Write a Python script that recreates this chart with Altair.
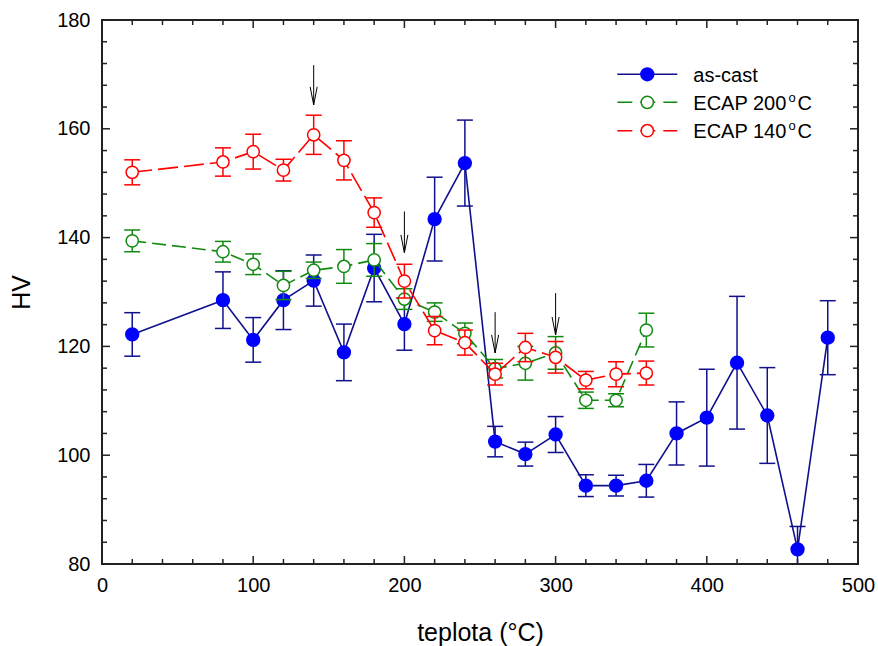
import altair as alt
import pandas as pd

# ---------------- data ----------------
T_cast = [20, 80, 100, 120, 140, 160, 180, 200, 220, 240, 260, 280, 300, 320, 340, 360, 380, 400, 420, 440, 460, 480]
hv_cast = [122.2, 128.5, 121.2, 128.5, 132.1, 118.9, 134.4, 124.1, 143.4, 153.7, 102.5, 100.2, 103.8, 94.4, 94.4, 95.3, 104.0, 106.9, 117.0, 107.3, 82.7, 121.6]
err_cast = [4.0, 5.2, 4.1, 5.4, 4.7, 5.2, 6.2, 4.8, 7.7, 7.9, 2.8, 2.2, 3.3, 2.0, 1.9, 3.0, 5.8, 8.9, 12.2, 8.8, 4.2, 6.8]

T_ecap = [20, 80, 100, 120, 140, 160, 180, 200, 220, 240, 260, 280, 300, 320, 340, 360]
hv_200 = [139.4, 137.4, 135.1, 131.2, 134.0, 134.7, 135.9, 128.7, 126.3, 122.4, 115.9, 116.9, 118.8, 110.1, 110.1, 123.0]
err_200 = [2.0, 1.9, 1.9, 2.6, 1.5, 3.1, 3.0, 1.9, 1.7, 1.9, 1.7, 3.1, 3.0, 1.5, 1.2, 3.1]
hv_140 = [152.0, 153.9, 155.8, 152.4, 158.9, 154.2, 144.6, 132.0, 122.9, 120.7, 114.9, 119.8, 118.0, 113.8, 114.9, 115.1]
err_140 = [2.3, 2.6, 3.2, 2.0, 3.6, 3.6, 2.7, 3.1, 2.6, 2.3, 2.0, 2.6, 2.9, 1.6, 2.3, 2.2]

arrow_T = [140, 200, 260, 300]
arrow_top = [171.7, 144.8, 126.3, 129.8]
arrow_tip = [164.4, 137.2, 118.8, 122.1]

x_major = [0, 100, 200, 300, 400, 500]
x_minor = [v for v in range(20, 500, 20) if v % 100 != 0]
y_major = [80, 100, 120, 140, 160, 180]
y_minor = [v for v in range(84, 180, 4) if v % 20 != 0]

# ---------------- styling ----------------
F = "Liberation Sans, Arial, sans-serif"
W, H = 756, 544
BLUE_LINE = "#10108e"
BLUE_FILL = "#0000ff"
GREEN = "#128a12"
RED = "#ff0000"
FRAME = "#222222"

xs = alt.Scale(domain=[0, 500], nice=False, zero=False)
ys = alt.Scale(domain=[80, 180], nice=False, zero=False)

XA = alt.Axis(
    values=x_major, format="d", ticks=False, domain=False, grid=False,
    labelFlush=False, labelOverlap=False,
    labelFont=F, labelFontSize=20, labelColor="black", labelPadding=11,
    title="teplota (°C)", titleFont=F, titleFontSize=25, titleFontWeight="normal",
    titleColor="black", titleX=378, titleY=68, titleAlign="center", titleBaseline="middle")
YA = alt.Axis(
    values=y_major, format="d", ticks=False, domain=False, grid=False,
    labelFlush=False, labelOverlap=False,
    labelFont=F, labelFontSize=20, labelColor="black", labelPadding=12,
    title="HV", titleFont=F, titleFontSize=25, titleFontWeight="normal",
    titleColor="black", titleX=-81, titleY=272, titleAngle=270,
    titleAlign="center", titleBaseline="middle")


def X(f="T"):
    return alt.X(f"{f}:Q", scale=xs, axis=XA)


def Y(f="HV"):
    return alt.Y(f"{f}:Q", scale=ys, axis=YA)


def mkdf(T, hv, err):
    return pd.DataFrame({
        "T": T,
        "HV": hv,
        "lo": [h - e for h, e in zip(hv, err)],
        "hi": [h + e for h, e in zip(hv, err)],
    })


df_cast = mkdf(T_cast, hv_cast, err_cast)
df_200 = mkdf(T_ecap, hv_200, err_200)
df_140 = mkdf(T_ecap, hv_140, err_140)


def series_layers(df, color, dash, fill, stroke, size):
    line_kwargs = dict(color=color, strokeWidth=1.6)
    if dash:
        line_kwargs["strokeDash"] = dash
    base = alt.Chart(df)
    line = base.mark_line(**line_kwargs).encode(x=X(), y=Y())
    bar = base.mark_rule(color=color, strokeWidth=1.5, clip=True).encode(x=X(), y=Y("lo"), y2="hi:Q")
    cap_lo = base.mark_tick(orient="horizontal", size=16, thickness=1.5, color=color, clip=True, opacity=1).encode(x=X(), y=Y("lo"))
    cap_hi = base.mark_tick(orient="horizontal", size=16, thickness=1.5, color=color, clip=True, opacity=1).encode(x=X(), y=Y("hi"))
    pts = base.mark_circle(size=size, fill=fill, stroke=stroke, strokeWidth=1.5, opacity=1).encode(x=X(), y=Y())
    return [line, bar, cap_lo, cap_hi, pts]


layers = []
layers += series_layers(df_cast, BLUE_LINE, None, BLUE_FILL, BLUE_FILL, 165)
layers += series_layers(df_200, GREEN, [14, 6], "white", GREEN, 150)
layers += series_layers(df_140, RED, [20, 6], "white", RED, 150)

# arrows
df_arrow = pd.DataFrame({"T": arrow_T, "top": arrow_top, "tip": arrow_tip})
layers.append(alt.Chart(df_arrow).mark_rule(color="black", strokeWidth=1).encode(x=X(), y=Y("top"), y2="tip:Q"))
layers.append(alt.Chart(df_arrow).mark_point(
    shape="M -0.39 -2 L 0 0 L 0.39 -2", size=324, filled=False, stroke="black",
    strokeWidth=1, opacity=1).encode(x=X(), y=Y("tip")))


# inward ticks on all four sides
def xtick_layers(vals, length):
    c = alt.Chart(pd.DataFrame({"v": vals}))
    return [
        c.mark_rule(color=FRAME, strokeWidth=1.5).encode(x=X("v"), y=alt.value(H), y2=alt.value(H - length)),
        c.mark_rule(color=FRAME, strokeWidth=1.5).encode(x=X("v"), y=alt.value(0), y2=alt.value(length)),
    ]


def ytick_layers(vals, length):
    c = alt.Chart(pd.DataFrame({"v": vals}))
    return [
        c.mark_rule(color=FRAME, strokeWidth=1.5).encode(y=Y("v"), x=alt.value(0), x2=alt.value(length)),
        c.mark_rule(color=FRAME, strokeWidth=1.5).encode(y=Y("v"), x=alt.value(W - length), x2=alt.value(W)),
    ]


layers += xtick_layers(x_major, 8) + xtick_layers(x_minor, 5)
layers += ytick_layers(y_major, 8) + ytick_layers(y_minor, 5)

# legend (manual, inside the plot)
leg_names = ["as-cast", "ECAP 200", "ECAP 140"]
leg_colors = [BLUE_LINE, GREEN, RED]
leg_fill = [BLUE_FILL, "white", "white"]
leg_stroke = [BLUE_FILL, GREEN, RED]
leg_dash = [None, [15, 8], [15, 8]]
leg_rows = [54.3, 82.3, 110.7]
one = pd.DataFrame({"k": [0]})
for i, name in enumerate(leg_names):
    yc = leg_rows[i]
    rk = dict(color=leg_colors[i], strokeWidth=1.6)
    if leg_dash[i]:
        rk["strokeDash"] = leg_dash[i]
    layers.append(alt.Chart(one).mark_rule(**rk).encode(
        x=alt.value(515.3), x2=alt.value(575.3), y=alt.value(yc)))
    layers.append(alt.Chart(one).mark_circle(
        size=165 if i == 0 else 150, fill=leg_fill[i], stroke=leg_stroke[i],
        strokeWidth=1.5, opacity=1).encode(x=alt.value(545.3), y=alt.value(yc)))
    base_y = yc + 7.2
    layers.append(alt.Chart(one).mark_text(
        align="left", baseline="alphabetic", font=F, fontSize=20, color="black", text=name
    ).encode(x=alt.value(591.3), y=alt.value(base_y)))
    if i > 0:
        layers.append(alt.Chart(one).mark_text(
            align="left", baseline="alphabetic", font=F, fontSize=13, color="black", text="o"
        ).encode(x=alt.value(686.5), y=alt.value(base_y - 7.5)))
        layers.append(alt.Chart(one).mark_text(
            align="left", baseline="alphabetic", font=F, fontSize=20, color="black", text="C"
        ).encode(x=alt.value(695.5), y=alt.value(base_y)))

chart = alt.layer(*layers).properties(
    width=W, height=H,
    padding={"left": 102, "top": 20, "right": 20, "bottom": 82},
    autosize=alt.AutoSizeParams(type="none"),
    background="white",
).configure_view(stroke=FRAME, strokeWidth=2)

chart.save("out.html", embed_options={"renderer": "svg", "actions": False})
